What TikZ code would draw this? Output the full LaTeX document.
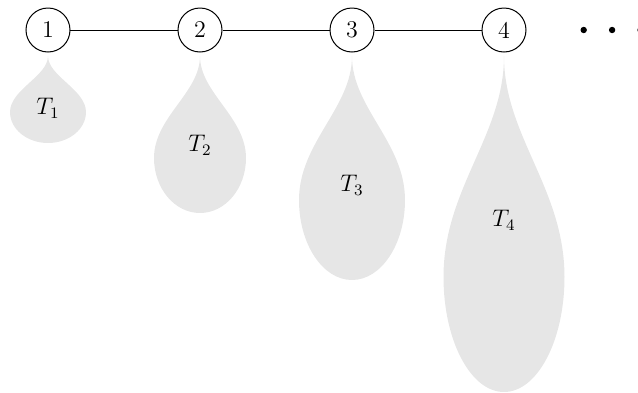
\documentclass[tikz,border=0pt]{standalone}
\usepackage{amsmath}
\usepackage{xcolor}
\usepackage{tikz}
\usetikzlibrary{positioning,calc}
\definecolor{cDrop}{HTML}{E6E6E6}
\tikzset{
  vtx/.style={circle, draw, line width=0.5pt, minimum size=22pt, inner sep=0pt},
  dotnode/.style={circle, fill=black, inner sep=0pt, minimum size=3.2pt},
  drop/.style={fill=cDrop, draw=none},
  lbl/.style={inner sep=0pt},
}
% teardrop hanging below a vertex: #1 vertex, #2 half width, #3 depth of widest point, #4 depth of round bottom
\newcommand{\hangdrop}[4]{%
  \fill[drop] ($(#1)+(0,-13pt)$)
    .. controls +(0,-0.36*#3) and +(0,0.40*#3) .. ++(#2,-#3)
    arc[start angle=0, end angle=-180, x radius=#2, y radius=#4]
    .. controls +(0,0.40*#3) and +(0,-0.36*#3) .. ($(#1)+(0,-13pt)$) -- cycle;}

\begin{document}
\begin{tikzpicture}[font=\large, node distance=53.5pt]
  \useasboundingbox (-24pt,15pt) rectangle (295pt,-181pt);
  % the spine of vertices
  \node[vtx] (v1) {1};
  \node[vtx, right=of v1] (v2) {2};
  \node[vtx, right=of v2] (v3) {3};
  \node[vtx, right=of v3] (v4) {4};
  \draw (v1)--(v2); \draw (v2)--(v3); \draw (v3)--(v4);
  \node[dotnode, right=26.8pt of v4] (d1) {};
  \node[dotnode, right=10.6pt of d1] (d2) {};
  \node[dotnode, right=10.6pt of d2] (d3) {};
  % the hanging trees, growing with the index
  \hangdrop{v1}{19pt}{28pt}{15.5pt}
  \hangdrop{v2}{23pt}{51pt}{27.5pt}
  \hangdrop{v3}{26.5pt}{72pt}{40pt}
  \hangdrop{v4}{30.25pt}{110.5pt}{57.5pt}
  \node[lbl] (t1) at ($(v1)+(0,-39pt)$) {$T_1$};
  \node[lbl] (t2) at ($(v2)+(0,-57.5pt)$) {$T_2$};
  \node[lbl] (t3) at ($(v3)+(0,-77.5pt)$) {$T_3$};
  \node[lbl] (t4) at ($(v4)+(0,-95pt)$) {$T_4$};
\end{tikzpicture}
\end{document}
